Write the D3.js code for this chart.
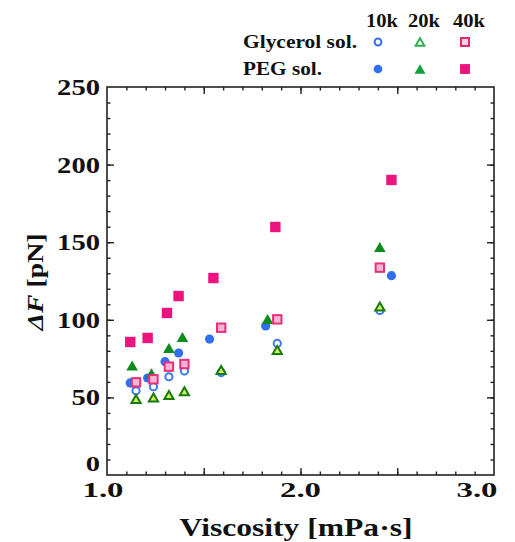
<!DOCTYPE html>
<html><head><meta charset="utf-8">
<script src="https://cdn.jsdelivr.net/npm/d3@7"></script>
<style>
body{margin:0;background:#fff;}
text{font-family:"Liberation Serif","Times New Roman",Times,serif;font-weight:bold;fill:#111;}
</style></head>
<body>
<svg id="c" width="515" height="542"></svg>
<script>
// ---- data ----
const glyVisc = [1.15, 1.24, 1.32, 1.40, 1.59, 1.88, 2.41];
const gly10k  = [54.3, 56.9, 63.3, 67.0, 66.0, 84.8, 106.0];
const gly20k  = [49.0, 50.0, 51.5, 54.0, 67.6, 80.5, 108.5];
const gly40k  = [59.7, 61.7, 69.8, 71.5, 94.9, 100.3, 133.6];

const peg10kVisc = [1.12, 1.21, 1.30, 1.37, 1.53, 1.82, 2.47];
const peg10k     = [59.3, 62.5, 73.0, 78.6, 87.6, 96.0, 128.4];
const peg20kVisc = [1.13, 1.23, 1.32, 1.39, 1.83, 2.41];
const peg20k     = [70.5, 65.5, 81.8, 88.9, 100.5, 146.9];
const peg40kVisc = [1.12, 1.21, 1.31, 1.37, 1.55, 1.87, 2.47];
const peg40k     = [85.7, 88.3, 104.4, 115.3, 126.9, 159.8, 190.1];

const xTickLabels = [1.0, 2.0, 3.0];
const yTickLabels = [0, 50, 100, 150, 200, 250];
const legendCols = ["10k", "20k", "40k"];
const legendRows = ["Glycerol sol.", "PEG sol."];

// ---- layout ----
const svg = d3.select("#c");
const L = 107, R = 494, T = 87, B = 475;
const x = d3.scaleLinear().domain([1, 3]).range([L, R]);
const y = d3.scaleLinear().domain([0, 250]).range([B, T]);

const styles = {
  peg10k: {shape: "circle", fill: "#2f6ff0", stroke: "none", sw: 0},
  peg20k: {shape: "tri", fill: "#0f8a1c", stroke: "none", sw: 0},
  peg40k: {shape: "square", fill: "#ee1480", stroke: "none", sw: 0},
  gly10k: {shape: "circle", fill: "#ffffff", stroke: "#3a78f5", sw: 2},
  gly20k: {shape: "tri", fill: "#d6ef58", stroke: "#177a12", sw: 2},
  gly40k: {shape: "square", fill: "#f5b6d4", stroke: "#e6307c", sw: 2}
};

function marker(g, st, cx, cy, scale) {
  const s = scale || 1;
  if (st.shape === "circle") {
    const r = (st.sw ? 3.6 : 4.6) * s;
    g.append("circle").attr("cx", cx).attr("cy", cy).attr("r", r)
      .attr("fill", st.fill).attr("stroke", st.stroke).attr("stroke-width", st.sw);
  } else if (st.shape === "square") {
    const h = (st.sw ? 4.2 : 5.2) * s;
    g.append("rect").attr("x", cx - h).attr("y", cy - h).attr("width", 2 * h).attr("height", 2 * h)
      .attr("fill", st.fill).attr("stroke", st.stroke).attr("stroke-width", st.sw);
  } else {
    const w = (st.sw ? 4.6 : 5.8) * s, hh = (st.sw ? 4.0 : 5.0) * s;
    g.append("path").attr("d", `M${cx},${cy - hh}L${cx + w},${cy + hh}L${cx - w},${cy + hh}Z`)
      .attr("fill", st.fill).attr("stroke", st.stroke).attr("stroke-width", st.sw)
      .attr("stroke-linejoin", "miter");
  }
}

// ---- frame & ticks ----
const frame = svg.append("g");
function ticks(axisFn, scale, vals, size, transform) {
  const a = axisFn(scale).tickValues(vals).tickSize(size).tickFormat("");
  const g = frame.append("g").attr("transform", transform).call(a);
  g.select(".domain").remove();
  g.selectAll("line").attr("stroke", "#222").attr("stroke-width", 1.4);
}
const xMinor = d3.range(1.1, 3.0, 0.1).map(v => +v.toFixed(1));
const xMajor = [1.5, 2.0, 2.5];
const yMinor = d3.range(10, 250, 10);
const yMajor = [50, 100, 150, 200];
ticks(d3.axisBottom, x, xMinor, -3.5, `translate(0,${B})`);
ticks(d3.axisBottom, x, xMajor, -7, `translate(0,${B})`);
ticks(d3.axisTop, x, xMinor, -3.5, `translate(0,${T})`);
ticks(d3.axisTop, x, xMajor, -7, `translate(0,${T})`);
ticks(d3.axisLeft, y, yMinor, -3.5, `translate(${L},0)`);
ticks(d3.axisLeft, y, yMajor, -7, `translate(${L},0)`);
ticks(d3.axisRight, y, yMinor, -3.5, `translate(${R},0)`);
ticks(d3.axisRight, y, yMajor, -7, `translate(${R},0)`);
frame.append("rect").attr("x", L).attr("y", T).attr("width", R - L).attr("height", B - T)
  .attr("fill", "none").attr("stroke", "#222").attr("stroke-width", 1.6);

// ---- tick labels ----
const xdx = {1: -4, 2: 0, 3: -17};
svg.append("g").selectAll("text").data(xTickLabels).join("text")
  .attr("x", d => x(d) + xdx[d]).attr("y", B + 22)
  .attr("text-anchor", "middle").attr("font-size", 21)
  .attr("textLength", 41).attr("lengthAdjust", "spacingAndGlyphs")
  .text(d => d.toFixed(1));
svg.append("g").selectAll("text").data(yTickLabels).join("text")
  .attr("x", 100).attr("y", d => y(d) + 8 + (d === 0 ? -12 : 0))
  .attr("text-anchor", "end").attr("font-size", d => d === 0 ? 20 : 23)
  .attr("textLength", d => String(d).length * 14.3).attr("lengthAdjust", "spacingAndGlyphs")
  .text(d => d);

// ---- axis titles ----
svg.append("text").attr("x", 296).attr("y", 536).attr("text-anchor", "middle")
  .attr("font-size", 25).attr("textLength", 233).attr("lengthAdjust", "spacingAndGlyphs")
  .text("Viscosity [mPa\u00B7s]");
const yt = svg.append("text").attr("transform", "translate(43,282) rotate(-90)")
  .attr("text-anchor", "middle").attr("font-size", 23)
  .attr("textLength", 97).attr("lengthAdjust", "spacingAndGlyphs");
yt.append("tspan").attr("font-style", "italic").text("\u0394F");
yt.append("tspan").text(" [pN]");

// ---- points ----
const pts = svg.append("g");
const series = [
  ["peg10k", peg10kVisc, peg10k],
  ["peg20k", peg20kVisc, peg20k],
  ["peg40k", peg40kVisc, peg40k],
  ["gly10k", glyVisc, gly10k],
  ["gly20k", glyVisc, gly20k],
  ["gly40k", glyVisc, gly40k]
];
series.forEach(([k, xs, ys]) => {
  xs.forEach((v, i) => marker(pts, styles[k], x(v), y(ys[i])));
});

// ---- legend ----
const lg = svg.append("g");
const colX = [378, 420, 465];
const rowY = [42, 69];
legendCols.forEach((c, i) => {
  lg.append("text").attr("x", colX[i] + 4).attr("y", 27).attr("text-anchor", "middle")
    .attr("font-size", 19).attr("textLength", 32).attr("lengthAdjust", "spacingAndGlyphs").text(c);
});
legendRows.forEach((r, i) => {
  lg.append("text").attr("x", 243).attr("y", rowY[i] + 6)
    .attr("font-size", 18).attr("textLength", i === 0 ? 114 : 79).attr("lengthAdjust", "spacingAndGlyphs").text(r);
});
const legStyles = [
  [{shape: "circle", fill: "#ffffff", stroke: "#3a6ff0", sw: 2},
   {shape: "tri", fill: "#ffffff", stroke: "#2eb050", sw: 2},
   {shape: "square", fill: "#fbd3e4", stroke: "#e0286c", sw: 2}],
  [styles.peg10k, {shape: "tri", fill: "#0fa040", stroke: "none", sw: 0}, styles.peg40k]
];
legStyles.forEach((row, ri) => row.forEach((st, ci) => marker(lg, st, colX[ci], rowY[ri], 0.95)));
</script>
</body></html>
